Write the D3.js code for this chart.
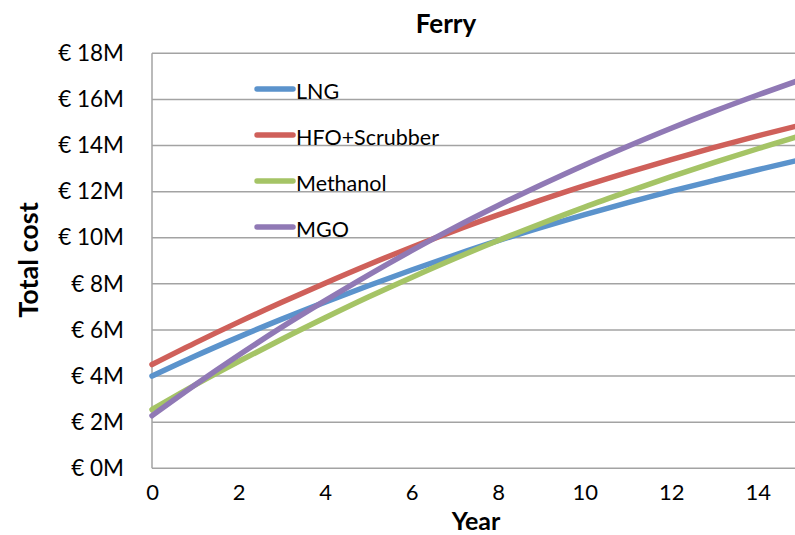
<!DOCTYPE html>
<html>
<head>
<meta charset="utf-8">
<script src="https://cdn.jsdelivr.net/npm/d3@7"></script>
<style>
  body { margin: 0; background: #fff; }
  svg { display: block; font-family: Lato, "Open Sans", sans-serif; }
</style>
</head>
<body>
<svg id="chart"></svg>
<script>
// total cost per year, in million euro
var years = [0, 1, 2, 3, 4, 5, 6, 7, 8, 9, 10, 11, 12, 13, 14, 15];
var lng      = [4.00, 4.87, 5.69, 6.47, 7.21, 7.92, 8.60, 9.25, 9.87, 10.45, 11.00, 11.52, 12.02, 12.49, 12.95, 13.39];
var hfo      = [4.50, 5.44, 6.34, 7.20, 8.03, 8.83, 9.59, 10.31, 10.99, 11.64, 12.26, 12.84, 13.39, 13.92, 14.42, 14.89];
var methanol = [2.55, 3.62, 4.63, 5.60, 6.53, 7.43, 8.28, 9.10, 9.88, 10.62, 11.33, 12.00, 12.65, 13.27, 13.86, 14.43];
var mgo      = [2.28, 3.62, 4.90, 6.12, 7.27, 8.38, 9.44, 10.45, 11.40, 12.30, 13.16, 13.97, 14.75, 15.49, 16.19, 16.86];

var seriesNames = ["LNG", "HFO+Scrubber", "Methanol", "MGO"];
var seriesValues = [lng, hfo, methanol, mgo];
var colors = ["#5b93cc", "#cf605a", "#a5c466", "#9079b5"];

var yTicks = [0, 2, 4, 6, 8, 10, 12, 14, 16, 18];
var xTicks = [0, 2, 4, 6, 8, 10, 12, 14];

var width = 795, height = 535;
var svg = d3.select("#chart").attr("width", width).attr("height", height);

var x = d3.scaleLinear().domain([0, 15]).range([152, 801]);
var y = d3.scaleLinear().domain([0, 18]).range([468.3, 53.3]);

// gridlines
svg.append("g")
    .selectAll("line")
    .data(yTicks)
    .enter()
    .append("line")
    .attr("x1", x(0))
    .attr("x2", x(15))
    .attr("y1", function (d) { return y(d); })
    .attr("y2", function (d) { return y(d); })
    .attr("stroke", "#a3a3a3")
    .attr("stroke-width", 1.5);

// left axis line
svg.append("line")
    .attr("x1", x(0)).attr("x2", x(0))
    .attr("y1", y(0)).attr("y2", y(18))
    .attr("stroke", "#a3a3a3")
    .attr("stroke-width", 1.5);

// y axis labels
var yAxis = d3.axisLeft(y)
    .tickValues(yTicks)
    .tickSize(0)
    .tickPadding(28)
    .tickFormat(function (d) { return "€ " + d + "M"; });
var gy = svg.append("g").attr("transform", "translate(" + x(0) + ",0)").call(yAxis);
gy.select(".domain").remove();
gy.selectAll("text").attr("font-size", 22.5).attr("fill", "#000").attr("font-family", "Lato");

// x axis labels
var xAxis = d3.axisBottom(x)
    .tickValues(xTicks)
    .tickSize(0)
    .tickPadding(16);
var gx = svg.append("g").attr("transform", "translate(0," + y(0) + ")").call(xAxis);
gx.select(".domain").remove();
gx.selectAll("text").attr("font-size", 22).attr("fill", "#000").attr("font-family", "Lato");

// lines
var line = d3.line()
    .x(function (d, i) { return x(years[i]); })
    .y(function (d) { return y(d); })
    .curve(d3.curveMonotoneX);

svg.append("g")
    .selectAll("path")
    .data(seriesValues)
    .enter()
    .append("path")
    .attr("d", line)
    .attr("fill", "none")
    .attr("stroke", function (d, i) { return colors[i]; })
    .attr("stroke-width", 5.5)
    .attr("stroke-linecap", "round");

// legend
var legend = svg.append("g")
    .selectAll("g")
    .data(seriesNames)
    .enter()
    .append("g")
    .attr("transform", function (d, i) { return "translate(257," + (89 + i * 46) + ")"; });
legend.append("line")
    .attr("x1", 0).attr("x2", 36)
    .attr("stroke", function (d, i) { return colors[i]; })
    .attr("stroke-width", 5.5)
    .attr("stroke-linecap", "round");
legend.append("text")
    .attr("x", 39)
    .attr("y", 10)
    .attr("font-size", 21.5)
    .text(function (d) { return d; });

// titles
svg.append("text")
    .attr("x", 446).attr("y", 33)
    .attr("text-anchor", "middle")
    .attr("font-size", 26).attr("font-weight", "bold")
    .text("Ferry");

svg.append("text")
    .attr("x", 476).attr("y", 530)
    .attr("text-anchor", "middle")
    .attr("font-size", 25).attr("font-weight", "bold")
    .text("Year");

svg.append("text")
    .attr("transform", "translate(38,260) rotate(-90)")
    .attr("text-anchor", "middle")
    .attr("font-size", 27).attr("font-weight", "bold")
    .text("Total cost");
</script>
</body>
</html>
